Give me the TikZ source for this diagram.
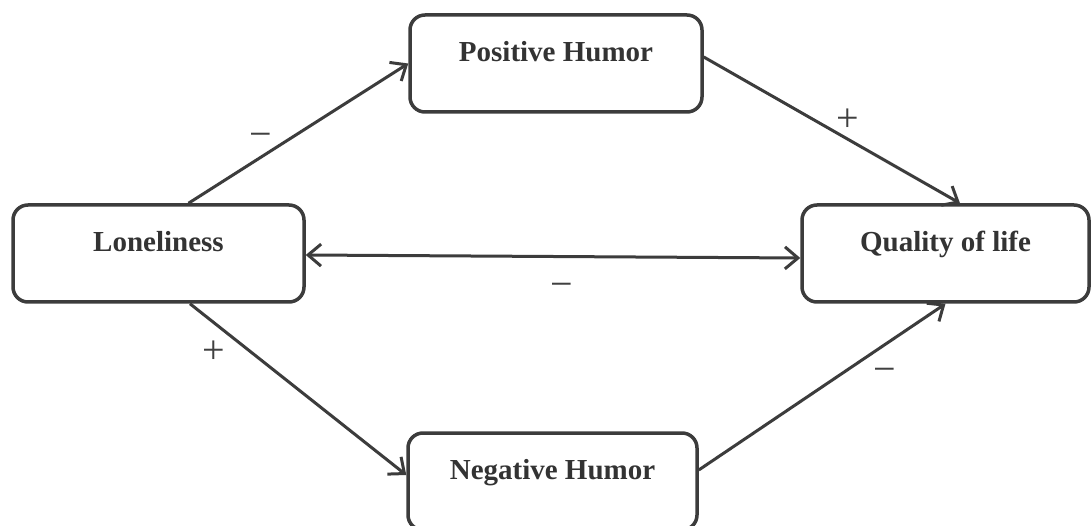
\documentclass[tikz,border=0pt]{standalone}
\usepackage{fontspec}
\setmainfont{Liberation Serif}
\usetikzlibrary{arrows.meta,calc}
\definecolor{ink}{HTML}{3C3C3C}
\begin{document}
\begin{tikzpicture}[x=1pt,y=-1pt,
  varbox/.style={draw=ink, line width=3.5pt, rounded corners=15pt, fill=white,
    inner sep=0pt, minimum height=97pt, text height=20pt, text depth=24pt,
    font=\fontsize{29}{32}\selectfont\bfseries, text=black!80},
  link/.style={draw=ink, line width=3pt, -{Straight Barb[length=13pt,width=22pt]}},
  sign/.style={font=\fontsize{40}{40}\selectfont, text=black!75, inner sep=0pt}]
\useasboundingbox (0,0) rectangle (1092,526);
\clip (0,0) rectangle (1092,526);
\fill[white] (0,0) rectangle (1092,526);
\node[varbox, minimum width=291pt] (lon) at (158.5,253.5) {Loneliness};
\node[varbox, minimum width=292pt] (pos) at (556,63.5) {Positive Humor};
\node[varbox, minimum width=289pt] (neg) at (552.5,481.5) {Negative Humor};
\node[varbox, minimum width=287pt] (qol) at (945.5,253.5) {Quality of life};
\draw[link] ([xshift=30pt]lon.north) -- (pos.west);
\draw[link] ([yshift=6.5pt]pos.east) -- ([xshift=14.5pt]qol.north);
\draw[link] ([xshift=31.5pt]lon.south) -- ([yshift=6.5pt]neg.west);
\draw[link] ([yshift=11.5pt]neg.east) -- (qol.south);
\draw[link, {Straight Barb[length=13pt,width=22pt]}-{Straight Barb[length=13pt,width=22pt]}] ([yshift=-1.5pt]lon.east) -- ([yshift=-4.5pt]qol.west);
\node[sign] (s1) at (261,140) {−};
\node[sign] (s2) at (848,120) {+};
\node[sign] (s3) at (562,290) {−};
\node[sign] (s4) at (214,352) {+};
\node[sign] (s5) at (885,375) {−};
\end{tikzpicture}
\end{document}
